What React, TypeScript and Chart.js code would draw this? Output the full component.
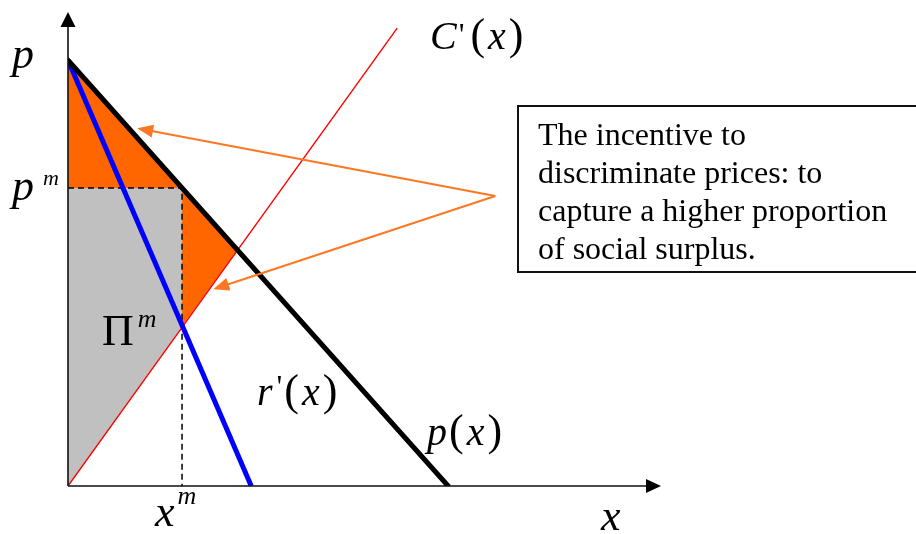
import React, { useEffect, useRef } from 'react';
import { Chart, registerables } from 'chart.js';

Chart.register(...registerables);

// ---- data (economic units) ----
const X_MAX = 15.6;
const Y_MAX = 11.13;
const demandCurve = [{ x: 0, y: 10 }, { x: 10, y: 0 }]; // p(x)
const marginalRevenue = [{ x: 0, y: 10 }, { x: 4.82, y: 0 }]; // r'(x)
const marginalCost = [{ x: 0, y: 0 }, { x: 8.66, y: 10.75 }]; // C'(x)
const xm = 3; // monopoly quantity
const pm = 7; // monopoly price
const mrAtXm = 3.75; // r'(x^m) = C'(x^m)
const pcCross = { x: 4.46, y: 5.54 }; // p(x) = C'(x)
const pInter = 10; // p(0)
const calloutSource = { x: 11.24, y: 6.81 };
const calloutTips = [{ x: 1.82, y: 8.4 }, { x: 3.82, y: 4.62 }];
const calloutLines = [
  'The incentive to',
  'discriminate prices: to',
  'capture a higher proportion',
  'of social surplus.',
];

const dashedGuide = [{ x: 0, y: pm }, { x: xm, y: pm }, { x: xm, y: 0 }];
const upperTriTop = [{ x: 0, y: pInter }, { x: xm, y: pm }];
const grayTop = [{ x: 0, y: pm }, { x: xm, y: pm }];
const grayBottom = [{ x: 0, y: 0 }, { x: xm, y: mrAtXm }];
const lowerTriTop = [{ x: xm, y: pm }, pcCross];
const lowerTriBottom = [{ x: xm, y: mrAtXm }, pcCross];

const ORANGE = '#FF6600';
const ARROW = '#FF7722';
const GRAY = '#C0C0C0';
const SERIF = '"Liberation Serif", "Times New Roman", serif';
const I = (s: number) => `italic ${s}px ${SERIF}`;
const R = (s: number) => `${s}px ${SERIF}`;

type Part = [string, string, number, number];
function seq(ctx: CanvasRenderingContext2D, x: number, y: number, parts: Part[]) {
  let cx = x;
  for (const [t, f, gap, dy] of parts) {
    ctx.font = f;
    ctx.fillText(t, cx, y + dy);
    cx += ctx.measureText(t).width + gap;
  }
}

function arrowHead(ctx: CanvasRenderingContext2D, tx: number, ty: number, fx: number, fy: number, len: number, half: number, color: string) {
  const a = Math.atan2(ty - fy, tx - fx);
  ctx.fillStyle = color;
  ctx.beginPath();
  ctx.moveTo(tx, ty);
  ctx.lineTo(tx - len * Math.cos(a) + half * Math.sin(a), ty - len * Math.sin(a) - half * Math.cos(a));
  ctx.lineTo(tx - len * Math.cos(a) - half * Math.sin(a), ty - len * Math.sin(a) + half * Math.cos(a));
  ctx.closePath();
  ctx.fill();
}

const overlay = {
  id: 'overlay',
  afterDatasetsDraw(chart: any) {
    const { ctx, chartArea, scales } = chart;
    const xs = scales.x, ys = scales.y;
    const x0 = xs.getPixelForValue(0), y0 = ys.getPixelForValue(0);
    ctx.save();
    // axes
    ctx.strokeStyle = '#111';
    ctx.lineWidth = 1.6;
    ctx.beginPath();
    ctx.moveTo(x0, y0);
    ctx.lineTo(chartArea.right - 8, y0);
    ctx.moveTo(x0, y0);
    ctx.lineTo(x0, chartArea.top + 8);
    ctx.stroke();
    arrowHead(ctx, chartArea.right, y0, x0, y0, 15, 7, '#000');
    arrowHead(ctx, x0, chartArea.top, x0, y0, 15, 7.5, '#000');

    // callout arrows
    const sx = xs.getPixelForValue(calloutSource.x), sy = ys.getPixelForValue(calloutSource.y);
    for (const t of calloutTips) {
      const tx = xs.getPixelForValue(t.x), ty = ys.getPixelForValue(t.y);
      const a = Math.atan2(ty - sy, tx - sx);
      ctx.strokeStyle = ARROW;
      ctx.lineWidth = 2;
      ctx.beginPath();
      ctx.moveTo(sx, sy);
      ctx.lineTo(tx - 12 * Math.cos(a), ty - 12 * Math.sin(a));
      ctx.stroke();
      arrowHead(ctx, tx, ty, sx, sy, 16, 6.5, ARROW);
    }

    // callout box
    ctx.strokeStyle = '#111';
    ctx.lineWidth = 2;
    ctx.fillStyle = '#fff';
    ctx.fillRect(518, 106, 420, 166);
    ctx.strokeRect(518, 106, 420, 166);
    ctx.fillStyle = '#000';
    ctx.font = R(32);
    ctx.textBaseline = 'alphabetic';
    calloutLines.forEach((l, i) => ctx.fillText(l, 538, 145 + i * 38));

    // math labels
    ctx.fillStyle = '#000';
    seq(ctx, 12, 68, [['p', I(44), 0, 0]]);
    seq(ctx, 12, 200, [['p', I(44), 9, 0], ['m', I(22), 0, -15]]);
    seq(ctx, 430, 49, [['C', I(40), 2, 0], ["'", R(32), 6, -4], ['(', R(44), 3, 0], ['x', I(40), 3, 0], [')', R(44), 0, 0]]);
    seq(ctx, 102, 345, [['\u03A0', R(44), 4, 0], ['m', I(26), 0, -18]]);
    seq(ctx, 257, 405, [['r', I(40), 4, 0], ["'", R(32), 2, -8], ['(', R(44), 3, 0], ['x', I(40), 3, 0], [')', R(44), 0, 0]]);
    seq(ctx, 427, 445, [['p', I(40), 2, 0], ['(', R(44), 3, 0], ['x', I(40), 3, 0], [')', R(44), 0, 0]]);
    seq(ctx, 155, 526, [['x', I(44), 3, 0], ['m', I(26), 0, -22]]);
    seq(ctx, 601, 530, [['x', I(44), 0, 0]]);
    ctx.restore();
  },
};

const line = (data: any[], color: string, width: number, extra: any = {}) => ({
  data,
  borderColor: color,
  borderWidth: width,
  pointRadius: 0,
  fill: false,
  tension: 0,
  ...extra,
});

export default function App() {
  const ref = useRef<HTMLCanvasElement>(null);
  useEffect(() => {
    if (!ref.current) return;
    const chart = new Chart(ref.current, {
      type: 'line',
      data: {
        datasets: [
          line(demandCurve, '#000', 5, { borderCapStyle: 'round' }),
          line(marginalRevenue, '#0000FF', 5),
          line(marginalCost, '#FF0000', 1.4),
          line(dashedGuide, '#000', 1.5, { borderDash: [6, 4] }),
          line(upperTriTop, ORANGE, 0, { fill: 5, backgroundColor: ORANGE }),
          line(grayTop, GRAY, 0, { fill: 6, backgroundColor: GRAY }),
          line(grayBottom, GRAY, 0),
          line(lowerTriTop, ORANGE, 0, { fill: 8, backgroundColor: ORANGE }),
          line(lowerTriBottom, ORANGE, 0),
        ] as any,
      },
      options: {
        animation: false,
        responsive: false,
        layout: { padding: { left: 68, right: 255, top: 12, bottom: 48 } },
        plugins: { legend: { display: false }, tooltip: { enabled: false } },
        scales: {
          x: { type: 'linear', min: 0, max: X_MAX, display: false },
          y: { type: 'linear', min: 0, max: Y_MAX, display: false },
        },
        events: [],
      },
      plugins: [overlay],
    });
    return () => chart.destroy();
  }, []);
  return (
    <div style={{ position: 'fixed', left: 0, top: 0, width: 916, height: 534, background: '#fff' }}>
      <canvas ref={ref} width={916} height={534} style={{ display: 'block' }} />
    </div>
  );
}
